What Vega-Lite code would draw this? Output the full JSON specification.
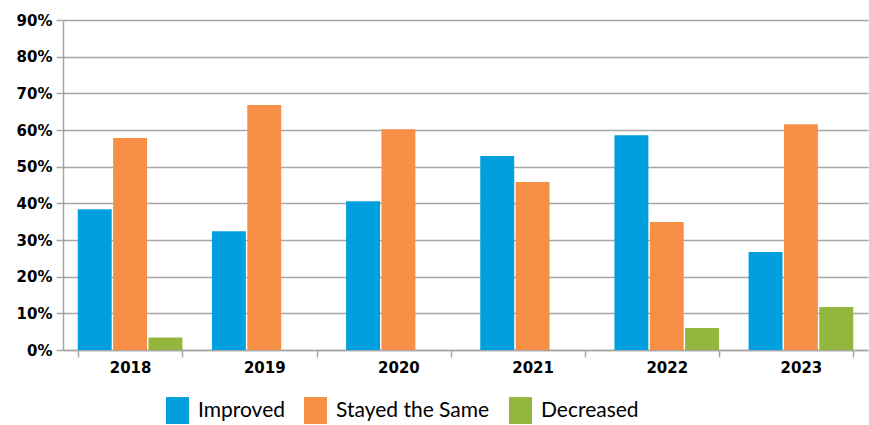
{
  "$schema": "https://vega.github.io/schema/vega-lite/v6.json",
  "width": 805,
  "height": 330,
  "autosize": {"type": "none"},
  "padding": {"left": 63, "top": 20, "right": 1, "bottom": 75},
  "background": "white",
  "data": {
    "values": [
      {"year": "2018", "series": "Improved", "value": 0.384},
      {"year": "2018", "series": "Stayed the Same", "value": 0.578},
      {"year": "2018", "series": "Decreased", "value": 0.034},
      {"year": "2019", "series": "Improved", "value": 0.324},
      {"year": "2019", "series": "Stayed the Same", "value": 0.668},
      {"year": "2020", "series": "Improved", "value": 0.406},
      {"year": "2020", "series": "Stayed the Same", "value": 0.602},
      {"year": "2021", "series": "Improved", "value": 0.529},
      {"year": "2021", "series": "Stayed the Same", "value": 0.458},
      {"year": "2022", "series": "Improved", "value": 0.586},
      {"year": "2022", "series": "Stayed the Same", "value": 0.349},
      {"year": "2022", "series": "Decreased", "value": 0.06},
      {"year": "2023", "series": "Improved", "value": 0.267},
      {"year": "2023", "series": "Stayed the Same", "value": 0.616},
      {"year": "2023", "series": "Decreased", "value": 0.117}
    ]
  },
  "mark": {"type": "bar"},
  "encoding": {
    "x": {
      "field": "year",
      "type": "nominal",
      "title": null,
      "scale": {"paddingInner": 0.22, "paddingOuter": 0.11},
      "axis": {
        "labelAngle": 0,
        "tickBand": "extent",
        "tickSize": 7,
        "tickColor": "#A6A6A6",
        "tickWidth": 1.5,
        "domainColor": "#A6A6A6",
        "domainWidth": 1.5,
        "labelFont": "DejaVu Sans",
        "labelFontWeight": "bold",
        "labelFontSize": 15,
        "labelColor": "#000000",
        "labelPadding": 3,
        "grid": false
      }
    },
    "xOffset": {
      "field": "series",
      "type": "nominal",
      "sort": ["Improved", "Stayed the Same", "Decreased"],
      "scale": {"paddingInner": 0.04, "paddingOuter": 0}
    },
    "y": {
      "field": "value",
      "type": "quantitative",
      "title": null,
      "scale": {"domain": [0, 0.9], "nice": false},
      "axis": {
        "values": [0, 0.1, 0.2, 0.3, 0.4, 0.5, 0.6, 0.7, 0.8, 0.9],
        "format": ".0%",
        "grid": true,
        "gridColor": "#A6A6A6",
        "gridWidth": 1.5,
        "tickSize": 7,
        "tickColor": "#A6A6A6",
        "tickWidth": 1.5,
        "domainColor": "#A6A6A6",
        "domainWidth": 1.5,
        "labelFont": "DejaVu Sans",
        "labelFontWeight": "bold",
        "labelFontSize": 15,
        "labelColor": "#000000",
        "labelPadding": 4
      }
    },
    "color": {
      "field": "series",
      "type": "nominal",
      "title": null,
      "scale": {
        "domain": ["Improved", "Stayed the Same", "Decreased"],
        "range": ["#009FDD", "#F79046", "#93B63E"]
      },
      "legend": {
        "orient": "none",
        "legendX": 103,
        "legendY": 379,
        "direction": "horizontal",
        "symbolType": "M-1,-1.17H1V1.17H-1Z",
        "symbolSize": 529,
        "symbolStrokeWidth": 0,
        "symbolOpacity": 1,
        "labelFont": "Lato",
        "labelFontSize": 21,
        "labelColor": "#000000",
        "labelOffset": 9,
        "columnPadding": 19,
        "padding": 0,
        "labelLimit": 300
      }
    }
  },
  "config": {"view": {"stroke": null}, "axis": {"domainCap": "butt"}}
}
